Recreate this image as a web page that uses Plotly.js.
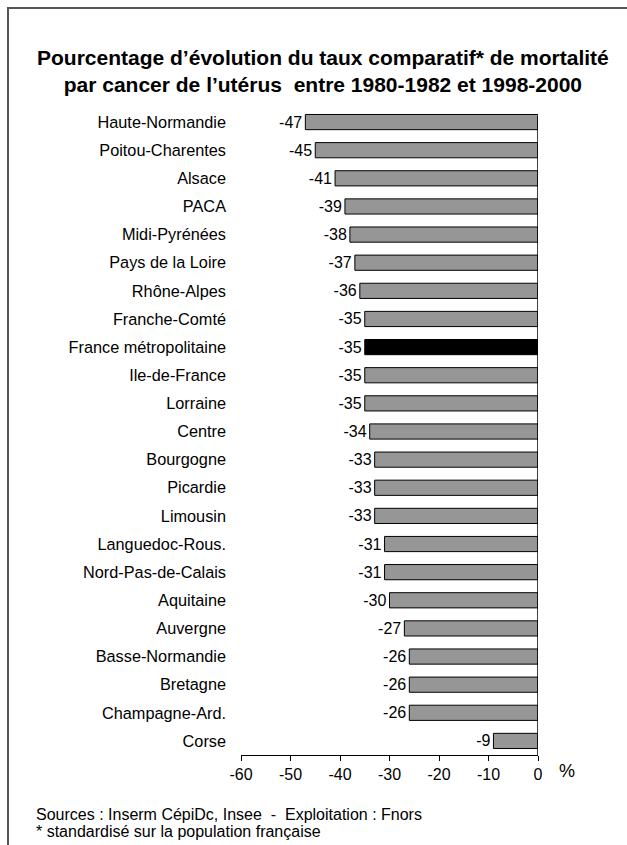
<!DOCTYPE html>
<html>
<head>
<meta charset="utf-8">
<script src="https://cdn.plot.ly/plotly-3.0.1.min.js"></script>
<style>html,body{margin:0;padding:0;background:#fff;}#chart{width:627px;height:845px;}</style>
</head>
<body>
<div id="chart"></div>
<script>
const regions = ["Haute-Normandie","Poitou-Charentes","Alsace","PACA","Midi-Pyrénées","Pays de la Loire","Rhône-Alpes","Franche-Comté","France métropolitaine","Ile-de-France","Lorraine","Centre","Bourgogne","Picardie","Limousin","Languedoc-Rous.","Nord-Pas-de-Calais","Aquitaine","Auvergne","Basse-Normandie","Bretagne","Champagne-Ard.","Corse"];
const values = [-47,-45,-41,-39,-38,-37,-36,-35,-35,-35,-35,-34,-33,-33,-33,-31,-31,-30,-27,-26,-26,-26,-9];
const highlight = "France métropolitaine";
const xTicks = [-60,-50,-40,-30,-20,-10,0];
const titleText = "Pourcentage d’évolution du taux comparatif* de mortalité<br>par cancer de l’utérus  entre 1980-1982 et 1998-2000";
const sourceText = "Sources : Inserm CépiDc, Insee  -  Exploitation : Fnors";
const noteText = "* standardisé sur la population française";

const FONT = "Liberation Sans, Arial, sans-serif";
const W = 627, H = 845;
const L = 241, R = 538, T = 108, B = 755;
const px = x => (x - L) / (R - L);
const py = y => (B - y) / (B - T);

const colors = regions.map(r => r === highlight ? "#000000" : "#969696");

const trace = {
  type: "bar",
  orientation: "h",
  y: regions,
  x: values,
  marker: {color: colors, line: {color: "#000", width: 1}},
  text: values.map(v => String(v)),
  textposition: "outside",
  constraintext: "none",
  textfont: {family: FONT, size: 16, color: "#000"},
  cliponaxis: false,
  hoverinfo: "none",
  width: 0.54
};

const nbsp = s => s.replace(/ {2}/g, "&nbsp;&nbsp;");

const layout = {
  width: W, height: H,
  margin: {l: L, r: W - R, t: T, b: H - B},
  paper_bgcolor: "#fff",
  plot_bgcolor: "#fff",
  showlegend: false,
  font: {family: FONT, color: "#000"},
  xaxis: {
    range: [-60, 0],
    tickvals: xTicks,
    ticktext: xTicks.map(String),
    showgrid: false,
    zeroline: false,
    showline: true,
    linecolor: "#000",
    linewidth: 1,
    ticks: "outside",
    ticklen: 5,
    tickcolor: "#000",
    tickfont: {family: FONT, size: 16, color: "#000"},
    fixedrange: true
  },
  yaxis: {
    autorange: "reversed",
    showgrid: false,
    zeroline: false,
    showline: false,
    ticks: "",
    ticklabelstandoff: 14,
    tickfont: {family: FONT, size: 16.3, color: "#000"},
    fixedrange: true
  },
  shapes: [
    {type: "line", xref: "x", yref: "paper", x0: 0, x1: 0, y0: 0, y1: py(116), line: {color: "#000", width: 1.5}},
    {type: "line", xref: "paper", yref: "paper", x0: px(8), x1: px(8), y0: py(7), y1: py(860), line: {color: "#555", width: 2}},
    {type: "line", xref: "paper", yref: "paper", x0: px(7), x1: px(640), y0: py(8), y1: py(8), line: {color: "#555", width: 2}}
  ],
  annotations: [
    {xref: "paper", yref: "paper", x: px(323), y: py(71), xanchor: "center", yanchor: "middle",
     text: "<b>" + titleText + "</b>", showarrow: false, align: "center",
     font: {family: FONT, size: 21, color: "#000"}},
    {xref: "paper", yref: "paper", x: px(557), y: py(771), xanchor: "left", yanchor: "middle",
     text: "%", showarrow: false, font: {family: FONT, size: 18, color: "#000"}},
    {xref: "paper", yref: "paper", x: px(34), y: py(814), xanchor: "left", yanchor: "middle",
     text: nbsp(sourceText), showarrow: false, align: "left", font: {family: FONT, size: 16, color: "#000"}},
    {xref: "paper", yref: "paper", x: px(34), y: py(831), xanchor: "left", yanchor: "middle",
     text: noteText, showarrow: false, align: "left", font: {family: FONT, size: 16, color: "#000"}}
  ]
};

Plotly.newPlot("chart", [trace], layout, {displayModeBar: false, staticPlot: true});
</script>
</body>
</html>
